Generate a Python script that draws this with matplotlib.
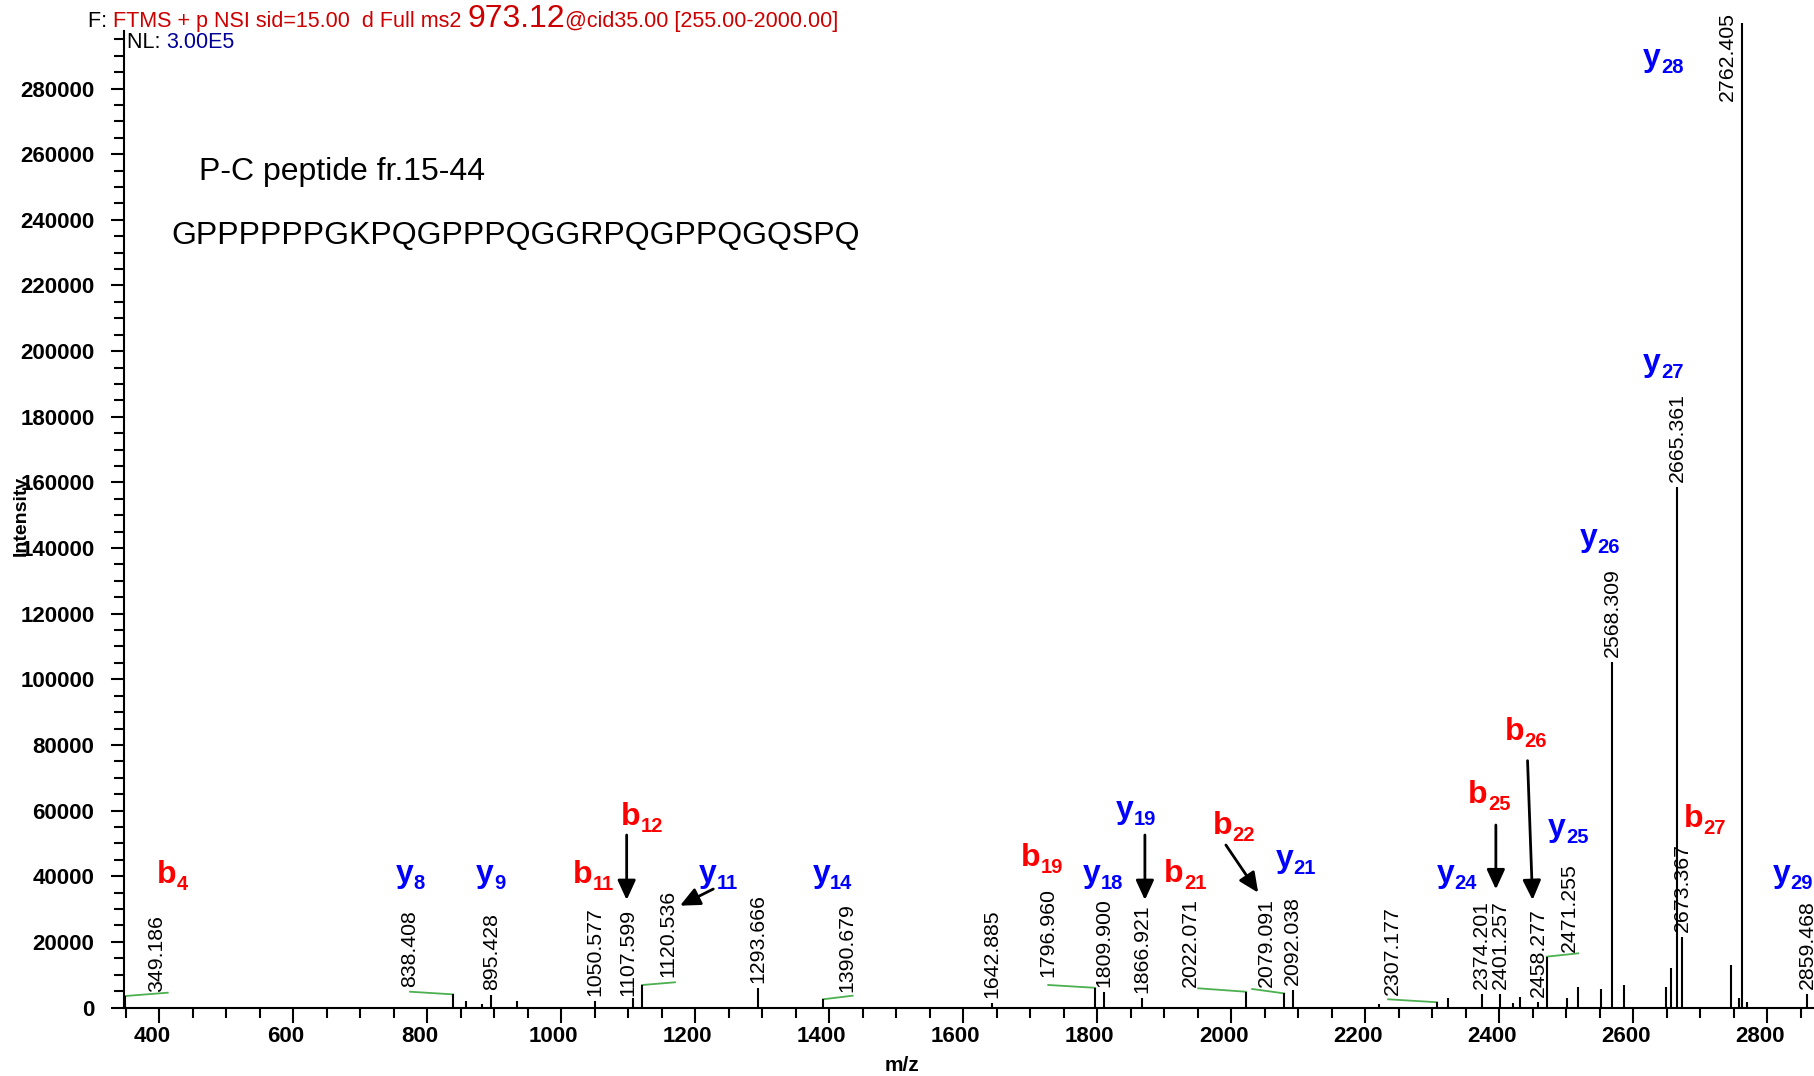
import matplotlib
matplotlib.use('Agg')
import matplotlib.pyplot as plt
from matplotlib.ticker import MultipleLocator
from matplotlib.transforms import ScaledTranslation
from matplotlib.offsetbox import TextArea, HPacker, AnnotationBbox

plt.rcParams['font.family'] = ['Liberation Sans', 'DejaVu Sans']

#%% data
peak_mz = [349.186, 838.408, 857.8, 882.0, 895.428, 934.0, 1050.577, 1107.599,
           1120.536, 1293.666, 1390.679, 1642.885, 1796.960, 1809.900, 1866.921,
           2022.071, 2079.091, 2092.038, 2220.0, 2307.177, 2323.5, 2374.201,
           2401.257, 2420.0, 2431.0, 2458.277, 2471.255, 2501.0, 2518.0, 2552.0,
           2568.309, 2587.0, 2649.0, 2656.0, 2665.361, 2673.367, 2746.3, 2758.2,
           2762.405, 2770.5, 2859.468]
peak_int = [3500, 4000, 2000, 1000, 3800, 2000, 2000, 2800,
            6850, 5850, 2500, 1300, 6000, 4800, 2800,
            4800, 4300, 5300, 1000, 1600, 2800, 4100,
            4100, 1300, 3100, 1800, 15500, 2800, 6300, 5600,
            105400, 6900, 6300, 12000, 158700, 21600, 13000, 3000,
            300000, 1800, 4100]

labelled_mz = [349.186, 838.408, 895.428, 1050.577, 1107.599, 1120.536, 1293.666,
               1390.679, 1642.885, 1796.960, 1809.900, 1866.921, 2022.071, 2079.091,
               2092.038, 2307.177, 2374.201, 2401.257, 2458.277, 2471.255, 2568.309,
               2665.361, 2673.367, 2762.405, 2859.468]

ion_names = ['b4', 'y8', 'y9', 'b11', 'b12', 'y11', 'y14', 'b19', 'y18', 'y19', 'b21',
             'b22', 'y21', 'y24', 'b25', 'b26', 'y25', 'y26', 'b27', 'y27', 'y28', 'y29']
ion_x = [396, 753, 873, 1017, 1089, 1206, 1375, 1686, 1779, 1828, 1900,
         1972, 2066, 2307, 2354, 2408, 2473, 2520, 2676, 2615, 2615, 2808]
ion_y = [37840, 38330, 38330, 38020, 55600, 38330, 38330, 43200, 38330, 57650, 38330,
         52770, 42900, 38330, 62220, 81500, 52350, 140700, 55090, 194000, 286950, 38330]

# labels that sit off their peak (x, y, ha, va)
label_moved = {
    349.186: (396.1, 4810, 'center', 'bottom'),
    838.408: (773.1, 6340, 'center', 'bottom'),
    1107.599: (1100.1, 3500, 'center', 'bottom'),
    1120.536: (1159.7, 9380, 'center', 'bottom'),
    1390.679: (1426.0, 4810, 'center', 'bottom'),
    1796.960: (1726.9, 9200, 'center', 'bottom'),
    2022.071: (1938.4, 6340, 'center', 'bottom'),
    2079.091: (2052.8, 6340, 'center', 'bottom'),
    2307.177: (2240.9, 3810, 'center', 'bottom'),
    2471.255: (2505.5, 17000, 'center', 'bottom'),
    2762.405: (2754.3, 303400, 'right', 'top'),
}

# green leader lines: peak -> end point
leaders = [(349.186, 412.5, 4510), (838.408, 774.2, 4810), (1120.536, 1169.7, 7680),
           (1390.679, 1434.9, 3600), (1796.960, 1726.9, 6860), (2022.071, 1950.7, 5850),
           (2079.091, 2031.3, 5640), (2307.177, 2234.3, 2500), (2471.255, 2518.0, 16500)]

# arrows (from x, from y, to x, to y)
arrows = [(1097.6, 52560, 1097.6, 32750), (1226.9, 36100, 1177.2, 31020),
          (1871.2, 52560, 1871.2, 32750), (1992.1, 49510, 2040.3, 34980),
          (2395.1, 55600, 2395.1, 36010), (2442.4, 75200, 2449.9, 32750)]

#%% figure
fig = plt.figure(figsize=(18.14, 10.76), dpi=100)
ax = fig.add_axes([124.3 / 1814, 68.5 / 1076, 1 - 124.3 / 1814, (1007.5 - 31.1) / 1076])

ax.vlines(peak_mz, 0, peak_int, colors='black', lw=1.5, clip_on=False, zorder=3)

for m in labelled_mz:
    h = peak_int[peak_mz.index(m)]
    txt = '%.3f' % m
    if m in label_moved:
        x, y, ha, va = label_moved[m]
        ax.text(x, y, txt, rotation=90, ha=ha, va=va, fontsize=15.3, clip_on=False)
    else:
        ax.annotate(txt, (m, h), xytext=(0, 3.5), textcoords='offset points',
                    rotation=90, ha='center', va='bottom', fontsize=15.3)

for m, xe, ye in leaders:
    h = peak_int[peak_mz.index(m)]
    ax.plot([m, xe], [h, ye], color='#4caf50', lw=1.3, zorder=2)

for name, x, y in zip(ion_names, ion_x, ion_y):
    col = 'red' if name[0] == 'b' else 'blue'
    t = ax.text(x, y, name[0], color=col, fontsize=23, fontweight='bold',
                ha='left', va='baseline')
    ax.annotate(name[1:], xy=(1, 0), xycoords=t, color=col, fontsize=14.5,
                fontweight='bold', ha='left', va='baseline')

for x0, y0, x1, y1 in arrows:
    ax.annotate('', xy=(x1, y1), xytext=(x0, y0),
                arrowprops=dict(arrowstyle='-|>,head_length=1.2,head_width=0.55',
                                color='black', lw=2, shrinkA=0, shrinkB=0))

ax.text(459.3, 252100, 'P-C peptide fr.15-44', fontsize=23, va='baseline')
ax.text(417.5, 232700, 'GPPPPPPGKPQGPPPQGGRPQGPPQGQSPQ', fontsize=23, va='baseline')

# axes
ax.set_xlim(347.7, 2870)
ax.set_ylim(0, 297500)
ax.set_xticks(range(400, 2801, 200))
ax.xaxis.set_minor_locator(MultipleLocator(50))
ax.set_yticks(range(0, 280001, 20000))
ax.yaxis.set_minor_locator(MultipleLocator(5000))
for s in ['top', 'right']:
    ax.spines[s].set_visible(False)
for s in ['left', 'bottom']:
    ax.spines[s].set_linewidth(1.5)
ax.tick_params(axis='x', which='major', length=11, width=1.5, labelsize=16, pad=2)
ax.tick_params(axis='x', which='minor', length=7, width=1.5)
ax.tick_params(axis='y', which='major', length=9.5, width=1.5, labelsize=16, pad=12)
ax.tick_params(axis='y', which='minor', length=7.5, width=1.5)
shift = ScaledTranslation(-7.5 / 100, 0, fig.dpi_scale_trans)
for lab in ax.get_xticklabels():
    lab.set_fontweight('bold')
    lab.set_transform(lab.get_transform() + shift)
for lab in ax.get_yticklabels():
    lab.set_fontweight('bold')

fig.text(21 / 1814, 1 - 516 / 1076, 'Intensity', rotation=90, ha='center', va='center',
         fontsize=14, fontweight='bold')
fig.text(902 / 1814, 1 - 1071 / 1076, 'm/z', ha='center', va='baseline',
         fontsize=15, fontweight='bold')

# header lines
red = '#cc0000'
title = HPacker(children=[
    TextArea('F: ', textprops=dict(color='black', size=15.5)),
    TextArea('FTMS + p NSI sid=15.00  d Full ms2 ', textprops=dict(color=red, size=15.5)),
    TextArea('973.12', textprops=dict(color=red, size=23)),
    TextArea('@cid35.00 [255.00-2000.00]', textprops=dict(color=red, size=15.5)),
], align='baseline', pad=0, sep=0)
fig.add_artist(AnnotationBbox(title, (88, 1076 - 27 - 6.7), xycoords='figure pixels',
                              box_alignment=(0, 0), frameon=False, pad=0))
nl = HPacker(children=[
    TextArea('NL: ', textprops=dict(color='black', size=15.5)),
    TextArea('3.00E5', textprops=dict(color='#000099', size=15.5)),
], align='baseline', pad=0, sep=0)
fig.add_artist(AnnotationBbox(nl, (127, 1076 - 48 - 4.5), xycoords='figure pixels',
                              box_alignment=(0, 0), frameon=False, pad=0))

fig.savefig('out.png', dpi=100)
